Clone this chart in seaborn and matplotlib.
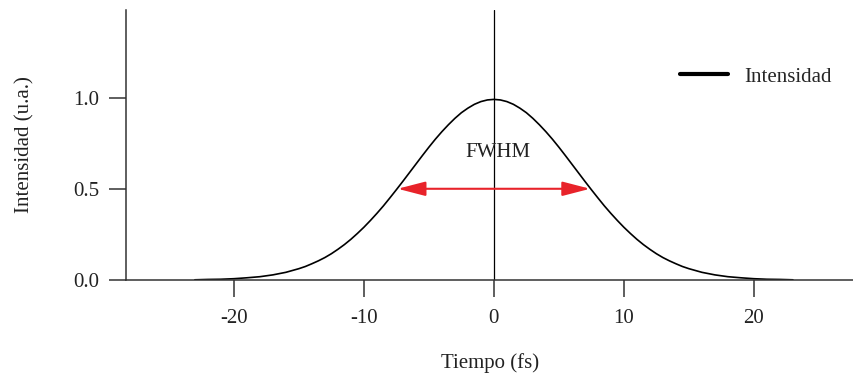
import matplotlib
matplotlib.use("Agg")
import matplotlib.pyplot as plt
import seaborn as sns
import pandas as pd

# Values (right half; curve is symmetric about t = 0)
tiempo_pos = [0, 0.5, 1, 1.5, 2, 2.5, 3, 3.5, 4, 4.5, 5, 5.5, 6, 6.5, 7, 7.5, 8, 8.5, 9, 9.5, 10,
              10.5, 11, 11.5, 12, 12.5, 13, 13.5, 14, 14.5, 15, 16, 17, 18, 19, 20, 21, 22, 23]
intensidad_pos = [0.990, 0.987, 0.978, 0.963, 0.942, 0.917, 0.886, 0.851, 0.813, 0.772, 0.728, 0.682,
                  0.635, 0.588, 0.541, 0.495, 0.450, 0.406, 0.365, 0.326, 0.289, 0.255, 0.223, 0.194,
                  0.168, 0.144, 0.123, 0.105, 0.089, 0.074, 0.062, 0.042, 0.028, 0.018, 0.012, 0.007,
                  0.004, 0.003, 0.001]
fwhm_left, fwhm_right, fwhm_level = -7.4, 7.4, 0.5
xticks = [-20, -10, 0, 10, 20]
xtick_labels = ["-20", "-10", "0", "10", "20"]
yticks = [0.0, 0.5, 1.0]
ytick_labels = ["0.0", "0.5", "1.0"]

tiempo = [-t for t in tiempo_pos[:0:-1]] + tiempo_pos
intensidad = intensidad_pos[:0:-1] + intensidad_pos
df = pd.DataFrame({"Tiempo": tiempo, "Intensidad": intensidad})

sns.set_theme(style="ticks")
plt.rcParams["font.family"] = ["Liberation Serif", "DejaVu Serif"]

fig = plt.figure(figsize=(8.54, 3.78), dpi=100)
ax = fig.add_axes([0.1475, 0.2593, 0.8525, 0.7142])

sns.lineplot(data=df, x="Tiempo", y="Intensidad", ax=ax, color="black", linewidth=1.2,
             label="Intensidad", sort=False)
ax.axvline(0, color="black", linewidth=0.9, zorder=1)
ax.annotate("", xy=(fwhm_left, fwhm_level), xytext=(fwhm_right, fwhm_level),
            arrowprops=dict(arrowstyle="<|-|>,head_length=0.85,head_width=0.22", color="#e8232a",
                            lw=1.5, mutation_scale=20, shrinkA=0, shrinkB=0))
ax.text(0.3, 0.70, "FWHM", ha="center", va="center", fontsize=15, color="#222222")

ax.set_xlim(-28.3, 27.7)
ax.set_ylim(0, 1.48)
ax.set_xticks(xticks)
ax.set_xticklabels(xtick_labels)
ax.set_yticks(yticks)
ax.set_yticklabels(ytick_labels)
ax.tick_params(axis="both", length=12, width=1.1, colors="#333333", labelsize=15, labelcolor="#222222")
ax.tick_params(axis="x", pad=9)
ax.tick_params(axis="y", pad=7)
for s in ["top", "right"]:
    ax.spines[s].set_visible(False)
for s in ["left", "bottom"]:
    ax.spines[s].set_color("#333333")
    ax.spines[s].set_linewidth(1.1)

ax.set_xlabel("Tiempo (fs)", fontsize=15, color="#222222", labelpad=18)
ax.set_ylabel("Intensidad (u.a.)", fontsize=15, color="#222222", labelpad=28)

leg = ax.legend(loc="center", bbox_to_anchor=(0.865, 0.752), frameon=False, fontsize=15,
                handlelength=2.3, handletextpad=0.8, borderaxespad=0, borderpad=0)
for line in leg.get_lines():
    line.set_linewidth(3)

fig.savefig("out.png", dpi=100)
